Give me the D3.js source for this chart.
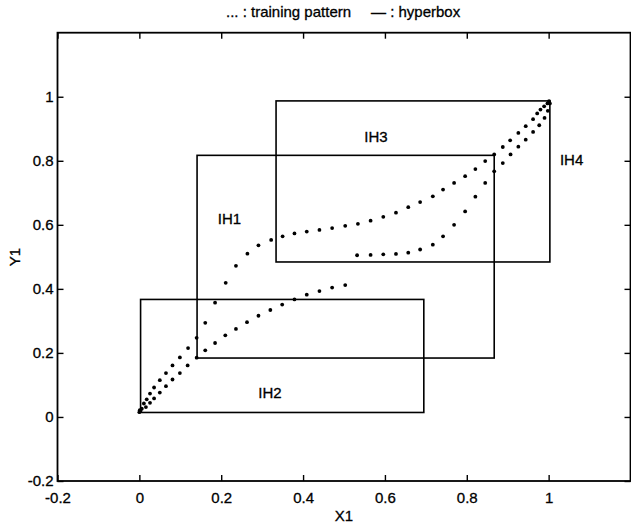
<!DOCTYPE html>
<html>
<head>
<meta charset="utf-8">
<script src="https://cdn.jsdelivr.net/npm/d3@7"></script>
<style>
  html, body { margin: 0; padding: 0; background: #fff; }
  svg { display: block; }
  text { font-family: "Liberation Sans", Arial, Helvetica, sans-serif; fill: #000; stroke: #000; stroke-width: 0.3px; }
</style>
</head>
<body>
<svg id="chart" width="631" height="525"></svg>
<script>
// Training pattern: two sampled curves (X1, Y1)
const patternAX = [0.000, 0.003, 0.006, 0.011, 0.018, 0.026, 0.036, 0.050, 0.065, 0.081, 0.099, 0.119, 0.140, 0.161, 0.185, 0.211, 0.236, 0.264, 0.291, 0.322, 0.350, 0.379, 0.409, 0.440, 0.471, 0.503, 0.534, 0.565, 0.596, 0.627, 0.657, 0.686, 0.717, 0.742, 0.769, 0.796, 0.821, 0.845, 0.867, 0.888, 0.906, 0.926, 0.944, 0.962, 0.972, 0.980, 0.989, 0.997, 1.001];
const patternAY = [0.015, 0.019, 0.026, 0.042, 0.055, 0.073, 0.092, 0.115, 0.137, 0.161, 0.186, 0.215, 0.247, 0.294, 0.357, 0.419, 0.472, 0.510, 0.536, 0.553, 0.564, 0.573, 0.579, 0.584, 0.590, 0.597, 0.603, 0.613, 0.625, 0.638, 0.655, 0.671, 0.689, 0.710, 0.731, 0.752, 0.774, 0.799, 0.820, 0.843, 0.864, 0.887, 0.908, 0.930, 0.948, 0.960, 0.970, 0.979, 0.986];
const patternBX = [0.001, 0.016, 0.026, 0.036, 0.050, 0.065, 0.081, 0.099, 0.118, 0.140, 0.161, 0.185, 0.210, 0.236, 0.263, 0.291, 0.320, 0.349, 0.379, 0.409, 0.440, 0.471, 0.503, 0.532, 0.565, 0.596, 0.627, 0.657, 0.686, 0.717, 0.742, 0.769, 0.796, 0.821, 0.845, 0.867, 0.888, 0.907, 0.926, 0.944, 0.962, 0.977, 0.990, 0.998, 1.003];
const patternBY = [0.021, 0.031, 0.044, 0.058, 0.076, 0.096, 0.117, 0.137, 0.161, 0.185, 0.208, 0.231, 0.255, 0.275, 0.296, 0.316, 0.334, 0.351, 0.367, 0.382, 0.393, 0.404, 0.412, 0.505, 0.506, 0.508, 0.509, 0.513, 0.523, 0.538, 0.564, 0.600, 0.642, 0.688, 0.731, 0.767, 0.793, 0.820, 0.844, 0.866, 0.890, 0.911, 0.934, 0.956, 0.979];

// Hyperboxes: min / max corners
const boxNames = ["IH1", "IH2", "IH3"];
const boxMinX = [0.141, 0.003, 0.334];
const boxMaxX = [0.867, 0.695, 1.003];
const boxMinY = [0.184, 0.014, 0.484];
const boxMaxY = [0.817, 0.367, 0.987];

// Hyperbox labels
const labelNames = ["IH1", "IH2", "IH3", "IH4"];
const labelX = [0.220, 0.319, 0.578, 1.056];
const labelY = [0.620, 0.075, 0.876, 0.804];

// Axis ticks
const tickValues = [-0.2, 0, 0.2, 0.4, 0.6, 0.8, 1];
const tickLabels = ["-0.2", "0", "0.2", "0.4", "0.6", "0.8", "1"];

const svg = d3.select("#chart");
const plotLeft = 57.5, plotRight = 630.5, plotTop = 32.7, plotBottom = 481;

const x = d3.scaleLinear().domain([-0.2, 1.2]).range([plotLeft, plotRight]);
const y = d3.scaleLinear().domain([-0.2, 1.2]).range([plotBottom, plotTop]);
const fmt = d => tickLabels[tickValues.indexOf(d)];

// Frame
svg.append("rect")
  .attr("x", plotLeft).attr("y", plotTop)
  .attr("width", plotRight - plotLeft).attr("height", plotBottom - plotTop)
  .attr("fill", "none").attr("stroke", "#000").attr("stroke-width", 1.8);

function styleAxis(g) {
  g.select(".domain").remove();
  g.selectAll(".tick line").attr("stroke", "#000").attr("stroke-width", 1.4);
  g.selectAll(".tick text").style("font-size", "15px")
    .style("font-family", "'Liberation Sans', Arial, sans-serif")
    .attr("stroke", "#000").attr("stroke-width", 0.3);
}

svg.append("g").attr("transform", `translate(0,${plotBottom})`)
  .call(d3.axisBottom(x).tickValues(tickValues).tickFormat(fmt).tickSize(-6).tickPadding(11))
  .call(styleAxis);
svg.append("g").attr("transform", `translate(${plotLeft},0)`)
  .call(d3.axisLeft(y).tickValues(tickValues).tickFormat(fmt).tickSize(-6).tickPadding(4))
  .call(styleAxis);
svg.append("g").attr("transform", `translate(0,${plotTop})`)
  .call(d3.axisTop(x).tickValues(tickValues).tickFormat("").tickSize(-6))
  .call(styleAxis);
svg.append("g").attr("transform", `translate(${plotRight},0)`)
  .call(d3.axisRight(y).tickValues(tickValues).tickFormat("").tickSize(-6))
  .call(styleAxis);

// Hyperboxes
svg.append("g").selectAll("rect")
  .data(boxNames)
  .join("rect")
  .attr("x", (d, i) => x(boxMinX[i]))
  .attr("y", (d, i) => y(boxMaxY[i]))
  .attr("width", (d, i) => x(boxMaxX[i]) - x(boxMinX[i]))
  .attr("height", (d, i) => y(boxMinY[i]) - y(boxMaxY[i]))
  .attr("fill", "none").attr("stroke", "#000").attr("stroke-width", 1.6);

// Training pattern dots
const dots = svg.append("g");
dots.selectAll("circle.a")
  .data(patternAX)
  .join("circle").attr("class", "a")
  .attr("cx", (d) => x(d))
  .attr("cy", (d, i) => y(patternAY[i]))
  .attr("r", 1.9).attr("fill", "#000");
dots.selectAll("circle.b")
  .data(patternBX)
  .join("circle").attr("class", "b")
  .attr("cx", (d) => x(d))
  .attr("cy", (d, i) => y(patternBY[i]))
  .attr("r", 1.9).attr("fill", "#000");

// Box labels
svg.append("g").selectAll("text")
  .data(labelNames)
  .join("text")
  .attr("x", (d, i) => x(labelX[i]))
  .attr("y", (d, i) => y(labelY[i]))
  .attr("dy", "0.35em")
  .attr("text-anchor", "middle")
  .style("font-size", "15px")
  .text(d => d);

// Axis titles
svg.append("text").attr("x", (plotLeft + plotRight) / 2).attr("y", 521)
  .attr("text-anchor", "middle").style("font-size", "15px").text("X1");
svg.append("text").attr("transform", "translate(20,257) rotate(-90)")
  .attr("text-anchor", "middle").style("font-size", "15px").text("Y1");

// Key above the plot
svg.append("text").attr("x", 226).attr("y", 17)
  .style("font-size", "15px").text("... : training pattern");
svg.append("text").attr("x", 371).attr("y", 17)
  .style("font-size", "15px").text("— : hyperbox");
</script>
</body>
</html>
